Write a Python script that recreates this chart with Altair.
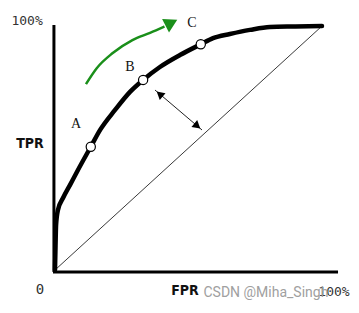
import altair as alt
import pandas as pd

# ROC curve (thick black)
curve_fpr = [0.0, 0.002, 0.004, 0.011, 0.03, 0.056, 0.086, 0.134, 0.169, 0.225, 0.281, 0.33, 0.393, 0.468, 0.546, 0.592, 0.655, 0.73, 0.805, 0.9, 1.0]
curve_tpr = [0.0, 0.1, 0.184, 0.246, 0.295, 0.348, 0.41, 0.505, 0.574, 0.656, 0.73, 0.779, 0.832, 0.881, 0.925, 0.95, 0.967, 0.984, 0.996, 0.998, 1.0]

# marked operating points
pt_labels = ["A", "B", "C"]
pt_fpr = [0.134, 0.33, 0.546]
pt_tpr = [0.505, 0.779, 0.925]
lab_fpr = [0.079, 0.281, 0.513]
lab_tpr = [0.598, 0.832, 1.012]

# chance diagonal
diag_fpr = [0.0, 1.0]
diag_tpr = [0.0, 1.0]

# green arrow path
green_fpr = [0.116, 0.157, 0.215, 0.290, 0.356, 0.410]
green_tpr = [0.762, 0.828, 0.888, 0.942, 0.972, 0.998]
green_head = (0.436, 1.013, 333)

# double-headed arrow
dbl_fpr = [0.3745, 0.5506]
dbl_tpr = [0.7377, 0.5738]
dbl_heads_fpr = [0.392, 0.533]
dbl_heads_tpr = [0.721, 0.590]
dbl_heads_angle = [220, 40]

# axis lines
yaxis_x = -0.004
yaxis_span = [-0.008, 1.004]
xaxis_y = -0.008
xaxis_span = [-0.0075, 1.06]

# texts
txt = [
    ("100%", -0.046, 1.004, "right", "alphabetic", "DejaVu Sans Mono", 13, "normal", "#333333"),
    ("TPR", -0.094, 0.516, "center", "middle", "DejaVu Sans Condensed", 14, "bold", "#111111"),
    ("0", -0.056, -0.082, "center", "middle", "DejaVu Sans Mono", 14, "normal", "#333333"),
    ("FPR", 0.487, -0.086, "center", "middle", "DejaVu Sans Condensed", 14, "bold", "#111111"),
    ("100%", 1.045, -0.09, "center", "middle", "DejaVu Sans Mono", 13, "normal", "#333333"),
    ("CSDN @Miha_Singh", 0.79, -0.094, "center", "middle", "Roboto", 14, "normal", "#a0a0a0"),
]

X = alt.Scale(domain=[0, 1], nice=False, zero=False)
Y = alt.Scale(domain=[0, 1], nice=False, zero=False)

def xy(fx="x", fy="y"):
    return dict(x=alt.X(f"{fx}:Q", scale=X, axis=None), y=alt.Y(f"{fy}:Q", scale=Y, axis=None))

curve_df = pd.DataFrame({"x": curve_fpr, "y": curve_tpr, "o": range(len(curve_fpr))})
diag_df = pd.DataFrame({"x": diag_fpr, "y": diag_tpr})
green_df = pd.DataFrame({"x": green_fpr, "y": green_tpr, "o": range(len(green_fpr))})
ghead_df = pd.DataFrame({"x": [green_head[0]], "y": [green_head[1]], "a": [green_head[2]]})
dbl_df = pd.DataFrame({"x": dbl_fpr, "y": dbl_tpr})
dhead_df = pd.DataFrame({"x": dbl_heads_fpr, "y": dbl_heads_tpr, "a": dbl_heads_angle})
pts_df = pd.DataFrame({"x": pt_fpr, "y": pt_tpr})
lab_df = pd.DataFrame({"x": lab_fpr, "y": lab_tpr, "t": pt_labels})
axes_df = pd.DataFrame({
    "x": [yaxis_x, xaxis_span[0]], "x2": [yaxis_x, xaxis_span[1]],
    "y": [yaxis_span[0], xaxis_y], "y2": [yaxis_span[1], xaxis_y],
})

layers = []
layers.append(alt.Chart(diag_df).mark_line(color="#222222", strokeWidth=0.9, clip=False).encode(**xy()))
layers.append(alt.Chart(axes_df).mark_rule(color="black", strokeWidth=3, clip=False).encode(
    x=alt.X("x:Q", scale=X, axis=None), x2="x2:Q",
    y=alt.Y("y:Q", scale=Y, axis=None), y2="y2:Q"))
layers.append(alt.Chart(curve_df).mark_line(color="black", strokeWidth=4.5, interpolate="monotone",
                                            strokeCap="round", clip=False).encode(order="o:Q", **xy()))
layers.append(alt.Chart(pts_df).mark_point(shape="circle", filled=True, fill="white", stroke="black",
                                           strokeWidth=1.2, size=85, opacity=1, clip=False).encode(**xy()))
layers.append(alt.Chart(green_df).mark_line(color="#1a8f1a", strokeWidth=2.5, interpolate="monotone",
                                            clip=False).encode(order="o:Q", **xy()))
layers.append(alt.Chart(ghead_df).mark_point(shape="triangle-right", filled=True, color="#1a8f1a",
                                             size=230, opacity=1, clip=False).encode(angle=alt.Angle("a:Q", scale=None), **xy()))
layers.append(alt.Chart(dbl_df).mark_line(color="#222222", strokeWidth=1, clip=False).encode(**xy()))
layers.append(alt.Chart(dhead_df).mark_point(shape="triangle-right", filled=True, color="black",
                                             size=80, opacity=1, clip=False).encode(angle=alt.Angle("a:Q", scale=None), **xy()))
layers.append(alt.Chart(lab_df).mark_text(font="Liberation Serif", fontSize=14, color="#111111",
                                          clip=False).encode(text="t:N", **xy()))
for t, tx, ty, al, bl, fnt, fs, fw, col in txt:
    d = pd.DataFrame({"x": [tx], "y": [ty], "t": [t]})
    layers.append(alt.Chart(d).mark_text(align=al, baseline=bl, font=fnt, fontSize=fs, fontWeight=fw,
                                         color=col, clip=False).encode(text="t:N", **xy()))

chart = alt.layer(*layers).properties(
    width=267, height=244,
    autosize=alt.AutoSizeParams(type="none"),
    padding={"left": 55, "top": 26, "right": 37, "bottom": 43},
    background="white",
).configure_view(stroke=None)

chart.save("out.html", embed_options={"renderer": "svg", "actions": False})
